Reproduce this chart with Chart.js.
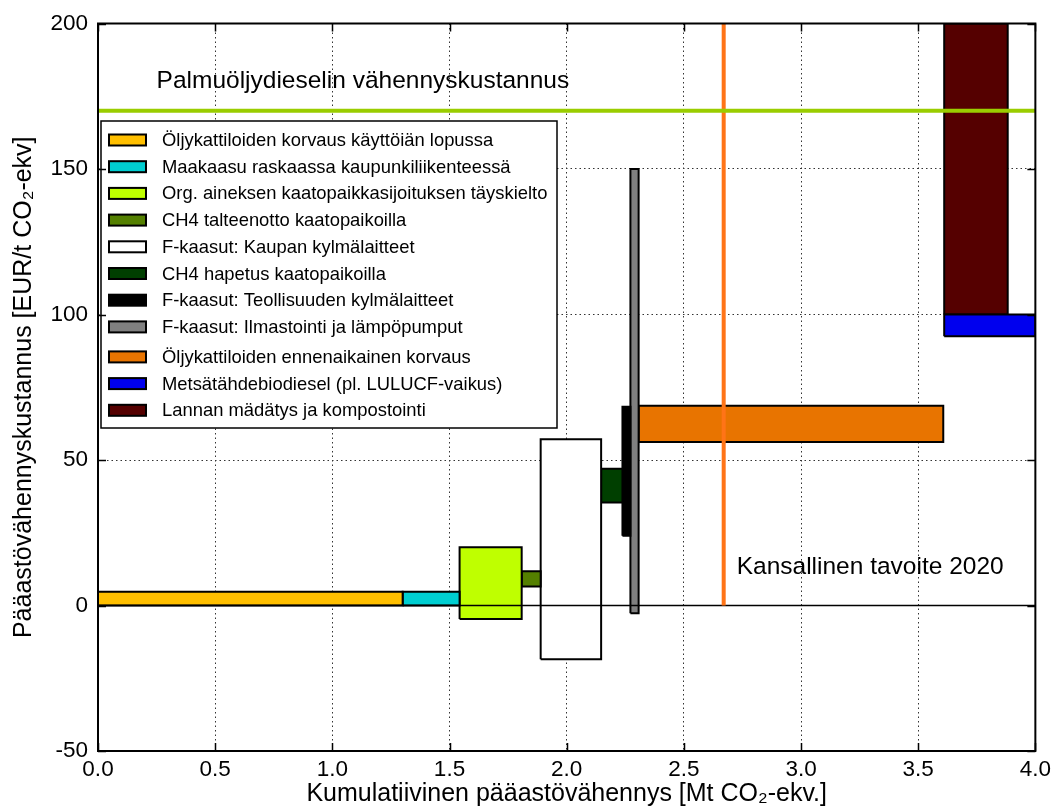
<!DOCTYPE html>
<html>
<head>
<meta charset="utf-8">
<script src="https://cdn.jsdelivr.net/npm/chart.js@4.4.0/dist/chart.umd.min.js"></script>
<style>
  body { margin: 0; background: #fff; }
</style>
</head>
<body>
<div style="width:1056px;height:809px"><canvas id="maccChart" width="1056" height="809"></canvas></div>
<script>
// toimenpiteet (legendan järjestyksessä)
var measures = [
    "Öljykattiloiden korvaus käyttöiän lopussa",
    "Maakaasu raskaassa kaupunkiliikenteessä",
    "Org. aineksen kaatopaikkasijoituksen täyskielto",
    "CH4 talteenotto kaatopaikoilla",
    "F-kaasut: Kaupan kylmälaitteet",
    "CH4 hapetus kaatopaikoilla",
    "F-kaasut: Teollisuuden kylmälaitteet",
    "F-kaasut: Ilmastointi ja lämpöpumput",
    "Öljykattiloiden ennenaikainen korvaus",
    "Metsätähdebiodiesel (pl. LULUCF-vaikus)",
    "Lannan mädätys ja kompostointi"
];
// kumulatiivinen vähennys, alku ja loppu [Mt CO2-ekv.]
var xStart = [0.0, 1.30, 1.543, 1.808, 1.889, 2.147, 2.238, 2.272, 2.307, 3.611, 3.611];
var xEnd   = [1.30, 1.543, 1.808, 1.889, 2.147, 2.238, 2.272, 2.307, 3.607, 4.0, 3.882];
// vähennyskustannus, ala- ja yläraja [EUR/t CO2-ekv]
var costLow  = [0, 0, -4.6, 6.5, -18.5, 35.4, 24.0, -2.7, 56.2, 92.5, 100];
var costHigh = [4.7, 4.7, 20.0, 11.8, 57.1, 47.0, 68.3, 150, 68.6, 100, 200];

var colors = ['#FFBF00', '#00CED1', '#BFFF00', '#548000', '#FFFFFF', '#003F00',
              '#000000', '#808080', '#E87400', '#0000EE', '#550000'];

var palmOilCost = 170;       // Palmuöljydieselin vähennyskustannus
var nationalTarget = 2.67;   // Kansallinen tavoite 2020

var xTicks = [0.0, 0.5, 1.0, 1.5, 2.0, 2.5, 3.0, 3.5, 4.0];
var yTicks = [-50, 0, 50, 100, 150, 200];

var FONT = "'Liberation Sans', Arial, sans-serif";
Chart.defaults.font.family = FONT;
Chart.defaults.color = '#000';

var datasets = [];

measures.forEach(function (name, i) {
    datasets.push({
        label: name,
        isMeasure: true,
        data: [
            {x: xStart[i], y: costLow[i]},
            {x: xEnd[i], y: costLow[i]},
            {x: xEnd[i], y: costHigh[i]},
            {x: xStart[i], y: costHigh[i]},
            {x: xStart[i], y: costLow[i]}
        ],
        backgroundColor: colors[i],
        borderColor: '#000',
        borderWidth: 2,
        fill: 'shape',
        pointRadius: 0,
        tension: 0,
        order: 2
    });
});

// nollaviiva
datasets.push({
    label: 'zero',
    data: [{x: 0, y: 0}, {x: 4, y: 0}],
    borderColor: '#000', borderWidth: 1.5, pointRadius: 0, fill: false, order: 1
});
// palmuöljydiesel
datasets.push({
    label: 'palm',
    data: [{x: 0, y: palmOilCost}, {x: 4, y: palmOilCost}],
    borderColor: '#9ACD00', borderWidth: 4, pointRadius: 0, fill: false, order: 0
});
// kansallinen tavoite
datasets.push({
    label: 'target',
    data: [{x: nationalTarget, y: 0}, {x: nationalTarget, y: 200}],
    borderColor: '#FF7417', borderWidth: 4, pointRadius: 0, fill: false, order: 0
});

var frameAndTexts = {
    id: 'frameAndTexts',
    afterDraw: function (chart) {
        var c = chart.ctx, a = chart.chartArea;
        var xs = chart.scales.x, ys = chart.scales.y;
        c.save();

        // tekstit
        c.fillStyle = '#000';
        c.font = '24.5px ' + FONT;
        c.textBaseline = 'middle';
        c.textAlign = 'left';
        c.fillText('Palmuöljydieselin vähennyskustannus', xs.getPixelForValue(0.25), ys.getPixelForValue(palmOilCost) - 30);
        c.fillText('Kansallinen tavoite 2020', xs.getPixelForValue(nationalTarget) + 13, ys.getPixelForValue(13));

        // legenda
        var lx = 101, ly = 121, lw = 456, lh = 307;
        c.fillStyle = '#fff';
        c.fillRect(lx, ly, lw, lh);
        c.strokeStyle = '#000';
        c.lineWidth = 1.5;
        c.strokeRect(lx, ly, lw, lh);
        c.font = '18.4px ' + FONT;
        var row = 0;
        chart.data.datasets.forEach(function (ds) {
            if (!ds.isMeasure) return;
            var cy = 140 + row * 26.7 + (row >= 8 ? 3.3 : 0);
            c.fillStyle = ds.backgroundColor;
            c.fillRect(109, cy - 5.5, 37, 11);
            c.lineWidth = 2;
            c.strokeStyle = '#000';
            c.strokeRect(109, cy - 5.5, 37, 11);
            c.fillStyle = '#000';
            c.fillText(ds.label, 162, cy + 1);
            row++;
        });

        // kehys ja sisäänpäin osoittavat tikit
        c.strokeStyle = '#000';
        c.lineWidth = 2;
        c.strokeRect(a.left, a.top, a.right - a.left, a.bottom - a.top);
        c.lineWidth = 1.5;
        c.beginPath();
        xTicks.forEach(function (v) {
            var px = Math.round(xs.getPixelForValue(v)) + 0.5;
            c.moveTo(px, a.bottom); c.lineTo(px, a.bottom - 8);
            c.moveTo(px, a.top); c.lineTo(px, a.top + 8);
        });
        yTicks.forEach(function (v) {
            var py = Math.round(ys.getPixelForValue(v)) + 0.5;
            c.moveTo(a.left, py); c.lineTo(a.left + 8, py);
            c.moveTo(a.right, py); c.lineTo(a.right - 8, py);
        });
        c.stroke();
        c.restore();
    }
};

var ctx = document.getElementById('maccChart').getContext('2d');
var chart = new Chart(ctx, {
    type: 'line',
    data: { datasets: datasets },
    options: {
        responsive: false,
        animation: false,
        layout: { padding: { top: 21, right: 20, left: 0, bottom: 0 } },
        plugins: {
            legend: { display: false },
            tooltip: { enabled: false }
        },
        scales: {
            x: {
                type: 'linear',
                min: 0, max: 4,
                afterBuildTicks: function (axis) {
                    axis.ticks = xTicks.map(function (v) { return {value: v}; });
                },
                afterFit: function (axis) { axis.height = 58; },
                ticks: {
                    font: { size: 22.5 },
                    padding: 5,
                    maxRotation: 0,
                    callback: function (v) { return v.toFixed(1); }
                },
                grid: { color: '#333', lineWidth: 1, drawTicks: false },
                border: { display: false, dash: [1.5, 3] },
                title: {
                    display: true,
                    text: 'Kumulatiivinen pääastövähennys [Mt CO₂-ekv.]',
                    font: { size: 25 },
                    padding: { top: 0, bottom: 0 }
                }
            },
            y: {
                type: 'linear',
                min: -50, max: 200,
                afterBuildTicks: function (axis) {
                    axis.ticks = yTicks.map(function (v) { return {value: v}; });
                },
                afterFit: function (axis) { axis.width = 98; },
                ticks: {
                    font: { size: 22.5 },
                    padding: 10
                },
                grid: { color: '#333', lineWidth: 1, drawTicks: false },
                border: { display: false, dash: [1.5, 3] },
                title: {
                    display: true,
                    text: 'Pääastövähennyskustannus [EUR/t CO₂-ekv]',
                    font: { size: 25 },
                    padding: { top: 9, bottom: 0 }
                }
            }
        }
    },
    plugins: [frameAndTexts]
});
</script>
</body>
</html>
